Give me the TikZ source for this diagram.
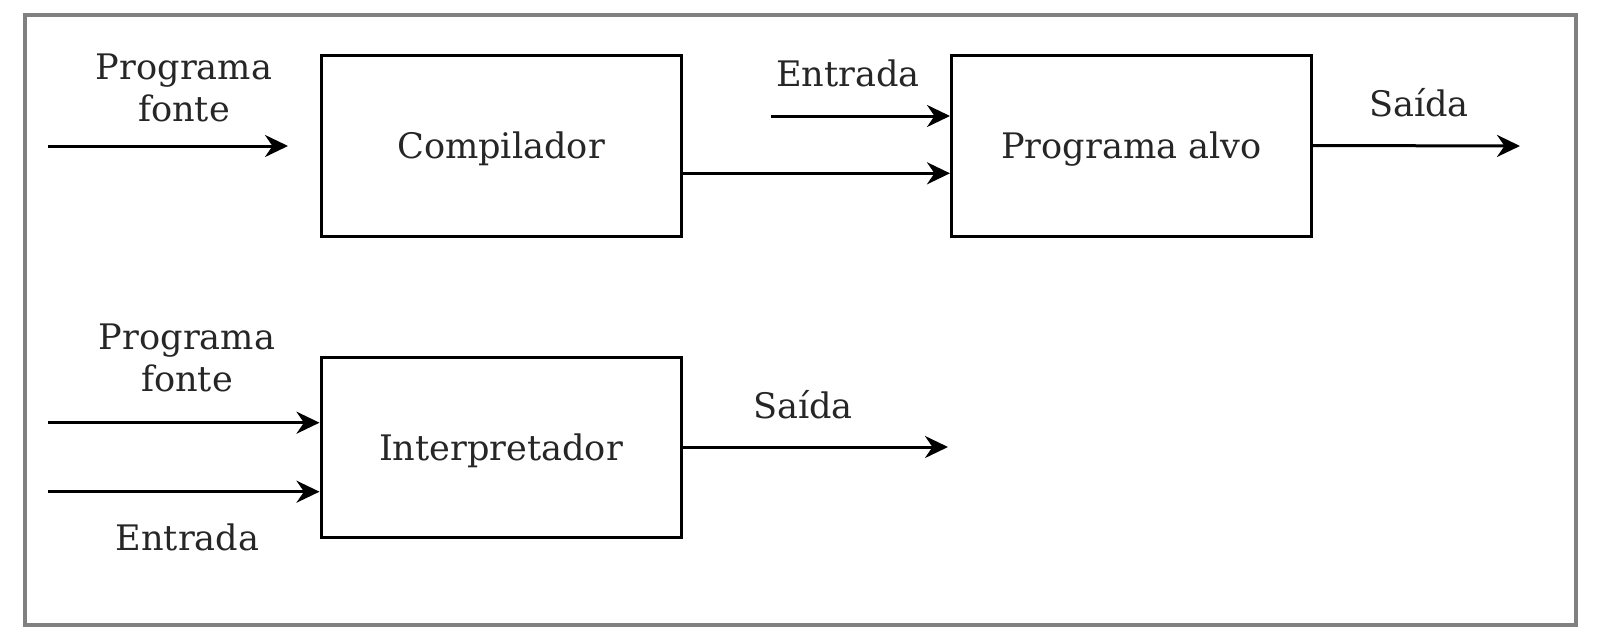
\documentclass[tikz,border=0pt]{standalone}
\usepackage{fontspec}
\setmainfont{DejaVu Serif}
\usetikzlibrary{arrows.meta}
\begin{document}
\begin{tikzpicture}[
        font = \fontsize{10}{12}\selectfont,
        block/.style = {draw, rectangle, minimum width = 3.6cm, minimum height = 1.81cm, text depth = 0pt, line width = 0.03cm, text = black!85},
        flow/.style = {-{Stealth[length = 0.23cm, width = 0.22cm]}, line width = 0.03cm},
        lbl/.style = {align = center, inner sep = 0pt, text = black!85}
    ]
        \useasboundingbox (0, 0) rectangle (15.98, 6.40);
        \draw[black!50, line width = 0.04cm] (0.25, 0.15) rectangle (15.76, 6.25);

        % compilador
        \node[block] (comp) at (5.01, 4.945) {Compilador};
        \node[block] (alvo) at (11.315, 4.945) {Programa alvo};
        \coordinate (fs) at (0.48, 4.94);
        \coordinate (fe) at (2.88, 4.94);
        \coordinate (es) at (7.71, 5.24);
        \coordinate (se) at (15.20, 4.94);

        \node[lbl] (fonte1) at (1.84, 5.52) {Programa\\fonte};
        \node[lbl] (ent1) at (8.48, 5.67) {Entrada};
        \node[lbl] (sai1) at (14.19, 5.37) {Saída};

        \draw[flow] (fs) -- (fe);
        \draw[flow] (es) -- (es -| alvo.west);
        \draw[flow] ([yshift = -0.278cm]comp.east) -- ([yshift = -0.278cm]alvo.west);
        \draw[flow] (alvo.east) -- (se);

        % interpretador
        \node[block, minimum height = 1.80cm] (interp) at (5.01, 1.93) {Interpretador};
        \coordinate (ps) at (0.48, 2.173);
        \coordinate (is) at (0.48, 1.483);
        \coordinate (oe) at (9.48, 1.93);

        \node[lbl] (fonte2) at (1.87, 2.82) {Programa\\fonte};
        \node[lbl] (ent2) at (1.875, 1.03) {Entrada};
        \node[lbl] (sai2) at (8.03, 2.354) {Saída};

        \draw[flow] (ps) -- (ps -| interp.west);
        \draw[flow] (is) -- (is -| interp.west);
        \draw[flow] (interp.east) -- (oe);
\end{tikzpicture}
\end{document}
